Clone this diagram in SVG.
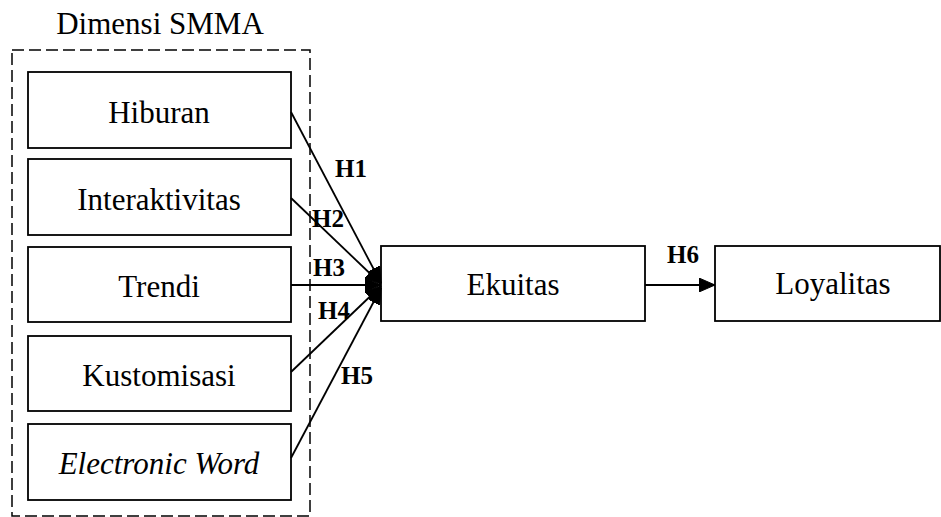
<svg xmlns="http://www.w3.org/2000/svg" width="941" height="517" viewBox="0 0 941 517">
<defs>
<style>
.box{fill:#fff;stroke:#000;stroke-width:1.8}
.t{font-family:"Liberation Serif","Times New Roman",serif;font-size:31px;fill:#000;text-anchor:middle}
.h{font-family:"Liberation Serif","Times New Roman",serif;font-size:25px;font-weight:bold;fill:#000;text-anchor:middle}
.c{stroke:#000;stroke-width:1.8;fill:none}
</style>
<marker id="ah" viewBox="0 0 16 14" refX="16" refY="7" markerWidth="16" markerHeight="14" markerUnits="userSpaceOnUse" orient="auto">
<path d="M0,0 L16,7 L0,14 z" fill="#000" stroke="#000" stroke-width="1"/>
</marker>
</defs>
<g id="group-smma">
<rect x="12" y="50" width="298" height="466" fill="none" stroke="#000" stroke-width="1.5" stroke-dasharray="12,5"/>
<text class="t" x="160" y="34">Dimensi SMMA</text>
</g>
<g id="hiburan"><rect class="box" x="28" y="72" width="263" height="76"/><text class="t" x="159" y="123">Hiburan</text></g>
<g id="interaktivitas"><rect class="box" x="28" y="159" width="263" height="76"/><text class="t" x="159" y="210">Interaktivitas</text></g>
<g id="trendi"><rect class="box" x="28" y="247" width="263" height="75"/><text class="t" x="159" y="297">Trendi</text></g>
<g id="kustomisasi"><rect class="box" x="28" y="336" width="263" height="75"/><text class="t" x="159" y="386">Kustomisasi</text></g>
<g id="ewom"><rect class="box" x="28" y="424" width="263" height="76"/><text class="t" x="159" y="474" font-style="italic">Electronic Word</text></g>
<g id="ekuitas"><rect class="box" x="381" y="246" width="264" height="75"/><text class="t" x="513" y="295">Ekuitas</text></g>
<g id="loyalitas"><rect class="box" x="715" y="246" width="225" height="75"/><text class="t" x="833" y="294">Loyalitas</text></g>
<g id="connectors">
<line class="c" x1="291" y1="112" x2="381" y2="283" marker-end="url(#ah)"/>
<line class="c" x1="291" y1="198" x2="381" y2="284" marker-end="url(#ah)"/>
<line class="c" x1="291" y1="285" x2="381" y2="285" marker-end="url(#ah)"/>
<line class="c" x1="291" y1="372" x2="381" y2="286" marker-end="url(#ah)"/>
<line class="c" x1="291" y1="458" x2="381" y2="288" marker-end="url(#ah)"/>
<line class="c" x1="645" y1="285" x2="715" y2="285" marker-end="url(#ah)"/>
</g>
<g id="labels">
<text class="h" x="351" y="177">H1</text>
<text class="h" x="328" y="227">H2</text>
<text class="h" x="329" y="276">H3</text>
<text class="h" x="334" y="319">H4</text>
<text class="h" x="357" y="384">H5</text>
<text class="h" x="683" y="263">H6</text>
</g>
</svg>
